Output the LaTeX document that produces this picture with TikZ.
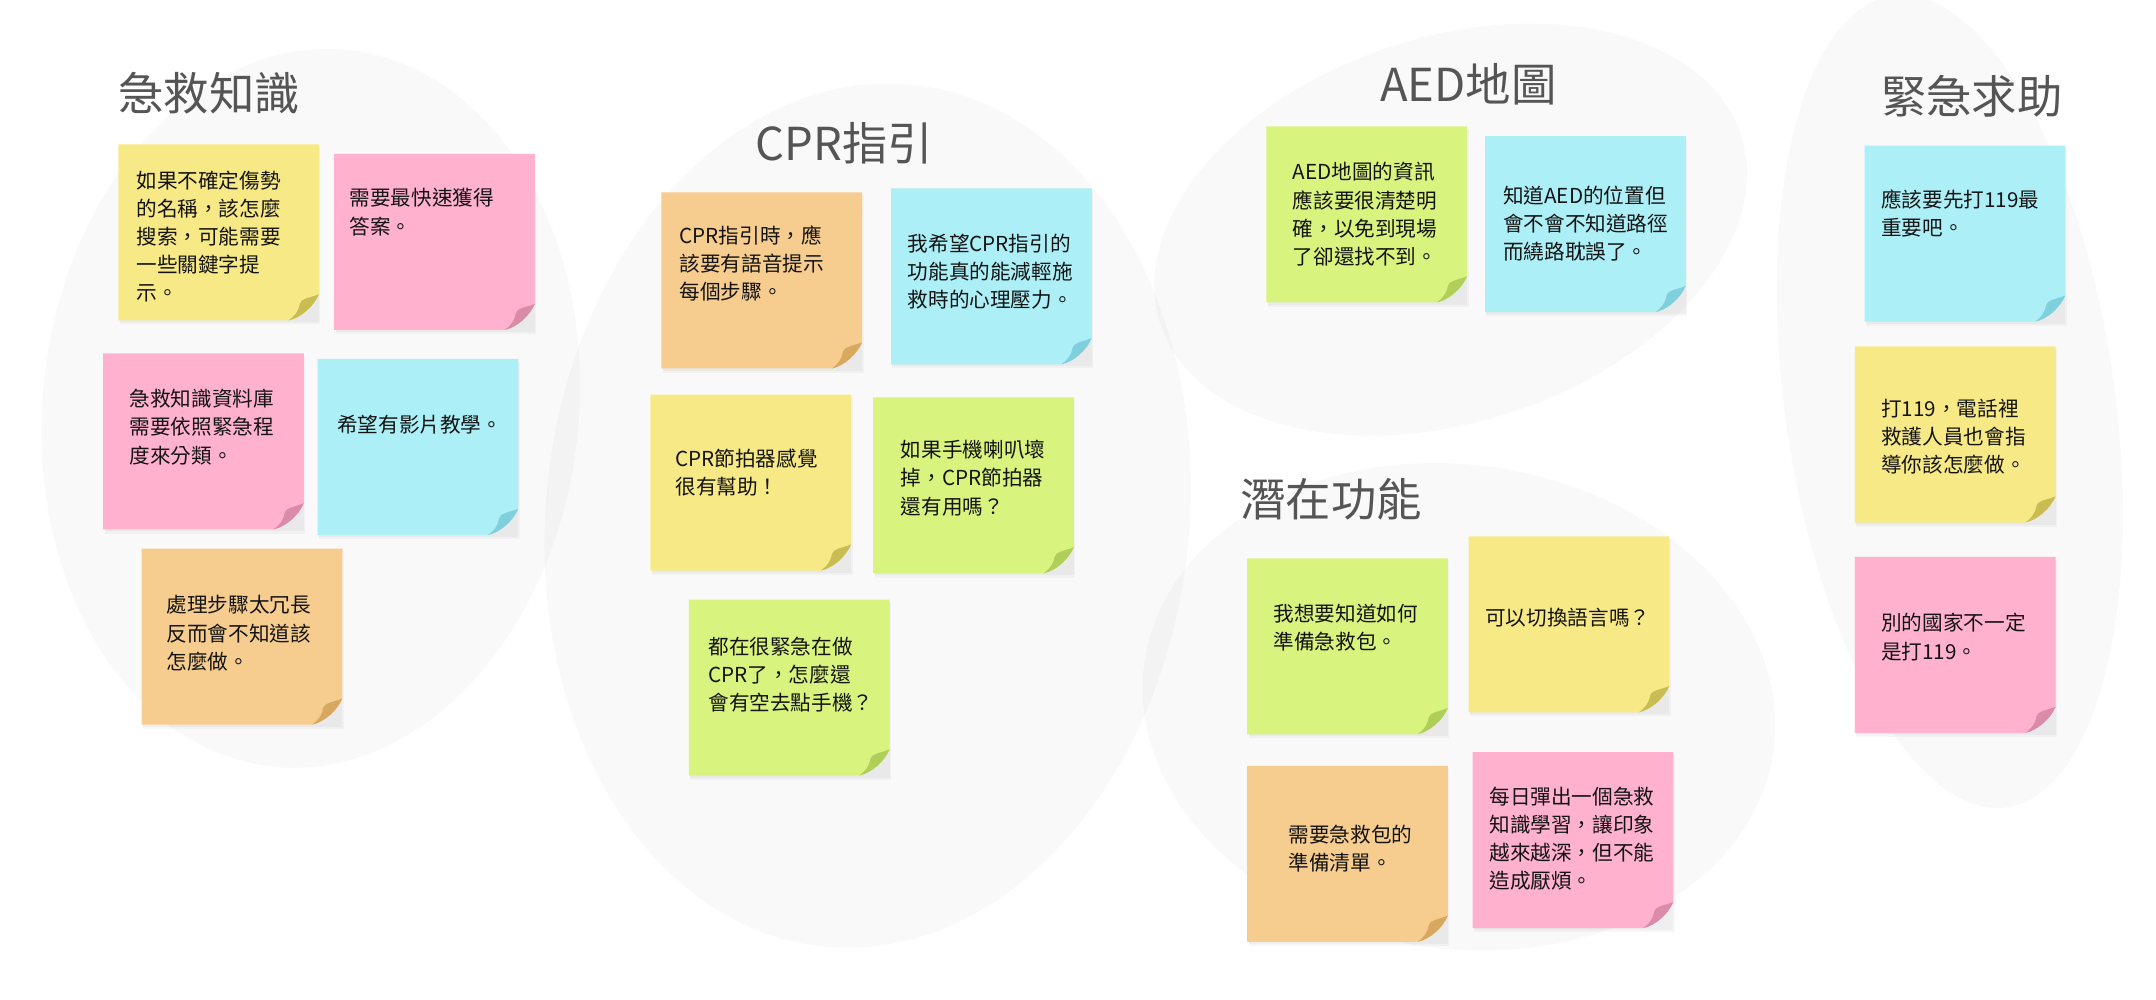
\documentclass[tikz,border=0pt]{standalone}
\usepackage{fontspec}
\newfontfamily\cjk{Noto Sans CJK TC}
\definecolor{nyellow}{HTML}{F8E987}
\definecolor{npink}{HTML}{FFB1CD}
\definecolor{ncyan}{HTML}{ACEFF7}
\definecolor{norange}{HTML}{F6CD8E}
\definecolor{ngreen}{HTML}{D8F37E}
\definecolor{fyellow}{HTML}{C9BC52}
\definecolor{fpink}{HTML}{D98BA8}
\definecolor{fcyan}{HTML}{7FCFDC}
\definecolor{forange}{HTML}{D8A860}
\definecolor{fgreen}{HTML}{AFCE5A}
\definecolor{titlegray}{HTML}{555555}
\definecolor{notetext}{HTML}{141414}
\tikzset{
  blob/.style={fill=black, fill opacity=0.025},
  titletext/.style={font=\cjk\fontsize{33}{36}\selectfont, text=titlegray, inner sep=0pt, anchor=center},
  notetxt/.style={font=\cjk\fontsize{15}{20.5}\selectfont, text=notetext, inner sep=0pt, anchor=north west, align=left},
}
\newcommand\stickynote[7]{%
  % #1 name, #2 x, #3 y, #4 colour key, #5 text x, #6 first row centre y, #7 text
  \fill[black, opacity=0.03] (#2+1,#3+2) rectangle (#2+147,#3+131);
  \fill[black, opacity=0.03] (#2+1,#3+2) rectangle (#2+146,#3+129.5);
  \fill[n#4] (#2,#3) -- (#2+146,#3) -- (#2+146,#3+109)
     .. controls (#2+142,#3+118) and (#2+133,#3+126) .. (#2+124,#3+128)
     -- (#2,#3+128) -- cycle;
  \fill[f#4] (#2+146,#3+109)
     .. controls (#2+138,#3+112) and (#2+133,#3+112) .. (#2+132,#3+116)
     .. controls (#2+131,#3+122) and (#2+128,#3+125) .. (#2+124,#3+128)
     .. controls (#2+133,#3+126) and (#2+142,#3+118) .. (#2+146,#3+109) -- cycle;
  \node[notetxt] (#1) at (#5,#6-8) {#7};
}
\begin{document}
\begin{tikzpicture}[x=1pt,y=-1pt]
\useasboundingbox (0,0) rectangle (1568,727);
\fill[white] (0,0) rectangle (1568,727);
% blobs
\fill[blob, rotate around={-6:(226,297)}] (226,297) ellipse (195 and 262);
\fill[blob, rotate around={-6:(631,375)}] (631,375) ellipse (234 and 315);
\fill[blob, rotate around={18:(1055,167)}] (1055,167) ellipse (222 and 140);
\fill[blob, rotate around={-8:(1061,514)}] (1061,514) ellipse (231 and 176);
\fill[blob, rotate around={8:(1418,292)}] (1418,292) ellipse (120 and 298);
% titles
\node[titletext] (t1) at (152,68) {急救知識};
\node[titletext] (t2) at (614,104) {CPR指引};
\node[titletext] (t3) at (1068,61) {AED地圖};
\node[titletext] (t4) at (968,363) {潛在功能};
\node[titletext] (t5) at (1434,70) {緊急求助};
% notes
\stickynote{n1}{86}{105}{yellow}{99}{132}{如果不確定傷勢\\的名稱，該怎麼\\搜索，可能需要\\一些關鍵字提\\示。}
\stickynote{n2}{243}{112}{pink}{254}{145}{需要最快速獲得\\答案。}
\stickynote{n3}{75}{257}{pink}{94}{291}{急救知識資料庫\\需要依照緊急程\\度來分類。}
\stickynote{n4}{231}{261}{cyan}{245}{310}{希望有影片教學。}
\stickynote{n5}{103}{399}{orange}{121}{441}{處理步驟太冗長\\反而會不知道該\\怎麼做。}
\stickynote{n6}{481}{140}{orange}{494}{172}{CPR指引時，應\\該要有語音提示\\每個步驟。}
\stickynote{n7}{648}{137}{cyan}{660}{178}{我希望CPR指引的\\功能真的能減輕施\\救時的心理壓力。}
\stickynote{n8}{473}{287}{yellow}{491}{334}{CPR節拍器感覺\\很有幫助！}
\stickynote{n9}{635}{289}{green}{655}{328}{如果手機喇叭壞\\掉，CPR節拍器\\還有用嗎？}
\stickynote{n10}{501}{436}{green}{515}{471}{都在很緊急在做\\CPR了，怎麼還\\會有空去點手機？}
\stickynote{n11}{921}{92}{green}{940}{126}{AED地圖的資訊\\應該要很清楚明\\確，以免到現場\\了卻還找不到。}
\stickynote{n12}{1080}{99}{cyan}{1093}{143}{知道AED的位置但\\會不會不知道路徑\\而繞路耽誤了。}
\stickynote{n13}{907}{406}{green}{926}{447}{我想要知道如何\\準備急救包。}
\stickynote{n14}{1068}{390}{yellow}{1080}{450}{可以切換語言嗎？}
\stickynote{n15}{907}{557}{orange}{937}{608}{需要急救包的\\準備清單。}
\stickynote{n16}{1071}{547}{pink}{1083}{580}{每日彈出一個急救\\知識學習，讓印象\\越來越深，但不能\\造成厭煩。}
\stickynote{n17}{1356}{106}{cyan}{1368}{146}{應該要先打119最\\重要吧。}
\stickynote{n18}{1349}{252}{yellow}{1368}{298}{打119，電話裡\\救護人員也會指\\導你該怎麼做。}
\stickynote{n19}{1349}{405}{pink}{1368}{454}{別的國家不一定\\是打119。}
\end{tikzpicture}
\end{document}
